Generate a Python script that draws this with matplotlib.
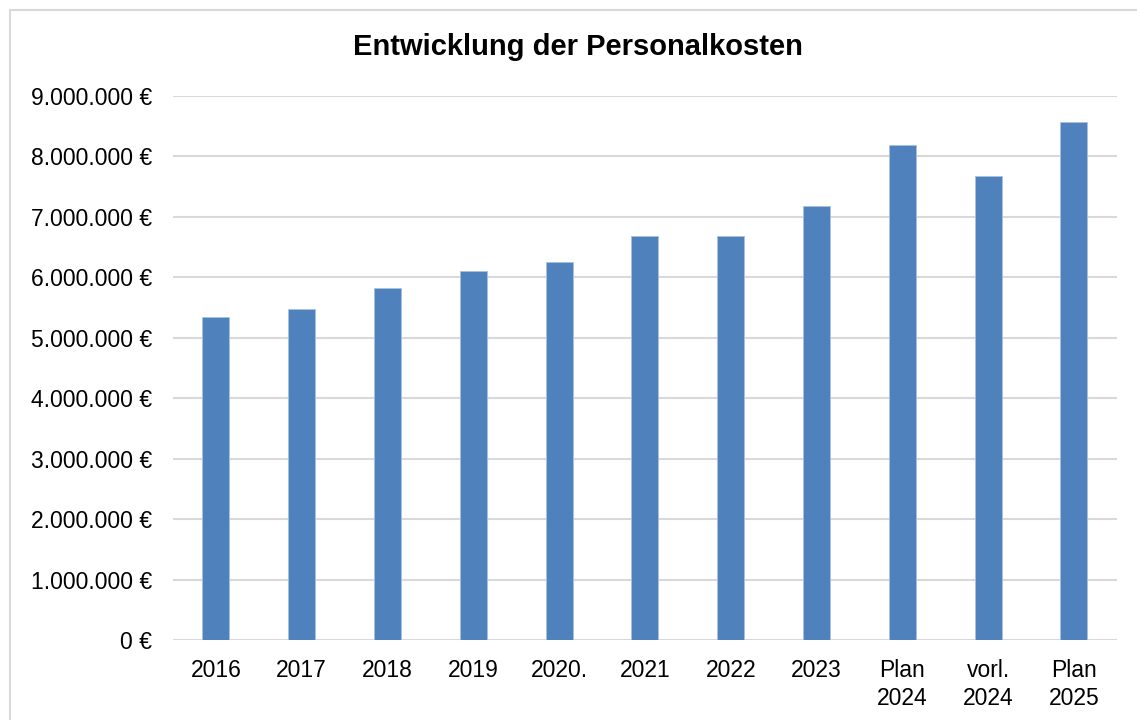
import matplotlib
matplotlib.use("Agg")
from matplotlib import pyplot as plt
from matplotlib.lines import Line2D
from matplotlib.ticker import FuncFormatter

plt.rcParams['font.family'] = ['Liberation Sans', 'DejaVu Sans']

jahre = ["2016", "2017", "2018", "2019", "2020.", "2021", "2022", "2023",
         "Plan\n2024", "vorl.\n2024", "Plan\n2025"]
kosten = [5350000, 5480000, 5830000, 6110000, 6260000, 6680000, 6680000,
          7180000, 8190000, 7680000, 8570000]

fig = plt.figure(figsize=(11.37, 7.2), dpi=100)
ax = fig.add_axes([0.1522, 0.1111, 0.8300, 0.7556])

x = list(range(len(jahre)))
ax.bar(x, kosten, width=0.315, color="#4f81bd", edgecolor="#a9c1e0", linewidth=0.6, zorder=3)

ax.set_xlim(-0.5, len(jahre) - 0.5)
ax.set_ylim(0, 9000000)
ax.set_yticks(range(0, 9000001, 1000000))


def euro(v, pos):
    return "{:,.0f} €".format(v).replace(",", ".")


ax.yaxis.set_major_formatter(FuncFormatter(euro))
ax.set_xticks(x)
ax.set_xticklabels(jahre, fontsize=16.5, linespacing=1.25)
ax.tick_params(axis="y", labelsize=16.5, length=0, pad=15)
ax.tick_params(axis="x", length=0, pad=14)
ax.grid(axis="y", color="#d9d9d9", linewidth=1.5, zorder=0)
for s in ax.spines.values():
    s.set_visible(False)

fig.text(0.508, 0.935, "Entwicklung der Personalkosten", ha="center", va="center",
         fontsize=21, fontweight="bold")

# Rahmen des Diagrammbereichs
bx = 9.5 / 1137
by = 1 - 9.5 / 720
fig.add_artist(Line2D([bx, bx], [0, by], transform=fig.transFigure, color="#d9d9d9", linewidth=1.5))
fig.add_artist(Line2D([bx, 1], [by, by], transform=fig.transFigure, color="#d9d9d9", linewidth=1.5))

fig.savefig("out.png", dpi=100)
